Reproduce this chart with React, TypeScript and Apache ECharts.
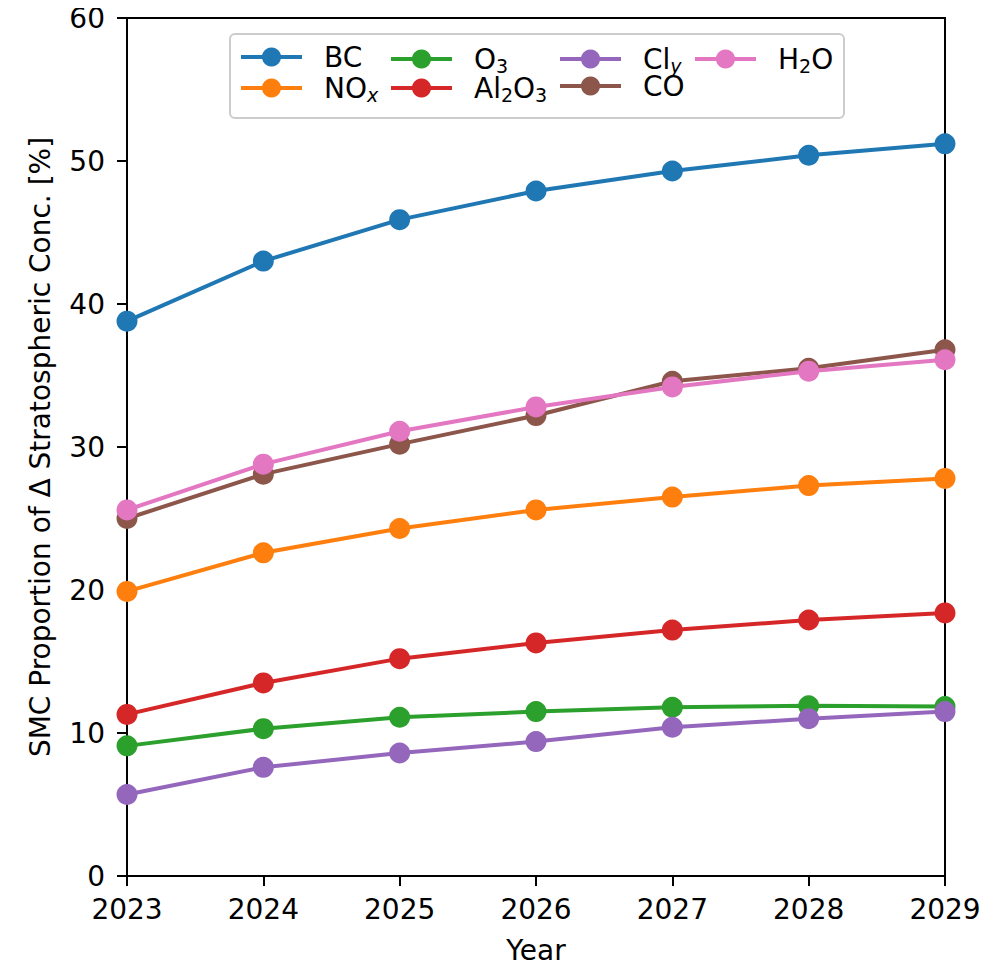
import React, { useEffect, useRef } from "react";
import * as echarts from "echarts";

const years = [2023, 2024, 2025, 2026, 2027, 2028, 2029];
const seriesNames = ["BC", "NOx", "O3", "Al2O3", "Cly", "CO", "H2O"];
const bc = [38.8, 43.0, 45.9, 47.9, 49.3, 50.4, 51.2];
const nox = [19.9, 22.6, 24.3, 25.6, 26.5, 27.3, 27.8];
const o3 = [9.1, 10.3, 11.1, 11.5, 11.8, 11.9, 11.85];
const al2o3 = [11.3, 13.5, 15.2, 16.3, 17.2, 17.9, 18.4];
const cly = [5.7, 7.6, 8.6, 9.4, 10.4, 11.0, 11.5];
const co = [25.0, 28.1, 30.2, 32.2, 34.6, 35.5, 36.8];
const h2o = [25.6, 28.8, 31.1, 32.8, 34.2, 35.3, 36.1];
const yTicks = [0, 10, 20, 30, 40, 50, 60];

const seriesValues = [bc, nox, o3, al2o3, cly, co, h2o];
const colors = ["#1f77b4", "#ff7f0e", "#2ca02c", "#d62728", "#9467bd", "#8c564b", "#e377c2"];
const legendLabels: Record<string, string> = {
  BC: "BC",
  NOx: "NO{subi|x}",
  O3: "O{sub|3}",
  Al2O3: "Al{sub|2}O{sub|3}",
  Cly: "Cl{subi|y}",
  CO: "CO",
  H2O: "H{sub|2}O",
};
// legend layout: [name, left, rowCenterY]
const legendSlots: [string, number, number][] = [
  ["BC", 239, 56],
  ["NOx", 239, 85],
  ["O3", 389, 56],
  ["Al2O3", 389, 85],
  ["Cly", 558, 56],
  ["CO", 558, 85],
  ["H2O", 693, 56],
];

const FONT = "DejaVu Sans";
const FS = 28;

export default function App() {
  const ref = useRef<HTMLDivElement>(null);
  useEffect(() => {
    if (!ref.current) return;
    const chart = echarts.init(ref.current, undefined, { renderer: "svg" });
    const LH = 26;
    const rich = {
      sub: { fontSize: 19, fontFamily: FONT, color: "#000", lineHeight: 12, padding: [13, 0, 0, 0] },
      subi: { fontSize: 19, fontFamily: FONT, fontStyle: "italic", color: "#000", lineHeight: 12, padding: [13, 0, 0, 0] },
    };
    chart.setOption({
      animation: false,
      backgroundColor: "#fff",
      grid: {
        left: 127,
        right: 62,
        top: 18,
        bottom: 92,
        show: true,
        borderColor: "#000",
        borderWidth: 2,
        backgroundColor: "transparent",
      },
      xAxis: {
        type: "value",
        min: 2023,
        max: 2029,
        interval: 1,
        name: "Year",
        nameLocation: "middle",
        nameGap: 60,
        nameTextStyle: { fontFamily: FONT, fontSize: FS, color: "#000" },
        axisLine: { show: true, lineStyle: { color: "#000", width: 2 } },
        axisTick: { show: true, length: 10, lineStyle: { color: "#000", width: 2 } },
        axisLabel: { fontFamily: FONT, fontSize: FS, color: "#000", margin: 19, formatter: (v: number) => String(v) },
        splitLine: { show: false },
      },
      yAxis: {
        type: "value",
        min: yTicks[0],
        max: yTicks[yTicks.length - 1],
        interval: 10,
        name: "SMC Proportion of Δ Stratospheric Conc. [%]",
        nameLocation: "middle",
        nameGap: 73,
        nameTextStyle: { fontFamily: FONT, fontSize: FS, color: "#000" },
        axisLine: { show: true, lineStyle: { color: "#000", width: 2 } },
        axisTick: { show: true, length: 10, lineStyle: { color: "#000", width: 2 } },
        axisLabel: { fontFamily: FONT, fontSize: FS, color: "#000", margin: 22 },
        splitLine: { show: false },
      },
      graphic: [
        {
          type: "rect",
          left: 229,
          top: 33,
          shape: { width: 614, height: 84, r: 5 },
          style: { fill: "rgba(255,255,255,0.8)", stroke: "#cccccc", lineWidth: 2 },
          z: 1,
        },
      ],
      legend: legendSlots.map(([name, left, cy]) => ({
        show: true,
        orient: "horizontal",
        left,
        top: cy - LH / 2,
        padding: 0,
        itemWidth: 61,
        itemHeight: 24,
        z: 5,
        data: [name],
        selectedMode: false,
        lineStyle: { width: 4 },
        formatter: (n: string) => legendLabels[n],
        textStyle: { fontFamily: FONT, fontSize: FS, lineHeight: LH, color: "#000", padding: [0, 0, 0, 17], rich },
      })),
      series: seriesNames.map((name, i) => ({
        name,
        type: "line",
        data: years.map((y, j) => [y, seriesValues[i][j]]),
        color: colors[i],
        symbol: "circle",
        symbolSize: 21,
        lineStyle: { width: 4, color: colors[i] },
        itemStyle: { color: colors[i] },
        clip: false,
        z: 2 + i,
      })),
    });
    return () => chart.dispose();
  }, []);
  return <div ref={ref} style={{ width: 1007, height: 969, margin: -8 }} />;
}
